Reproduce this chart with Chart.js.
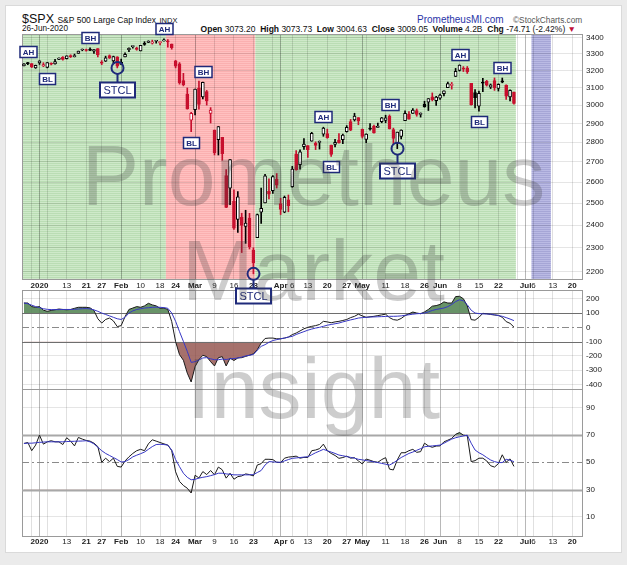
<!DOCTYPE html>
<html>
<head>
<meta charset="utf-8">
<script src="https://cdn.jsdelivr.net/npm/chart.js@4.4.0/dist/chart.umd.min.js"></script>
<style>
  html, body { margin: 0; padding: 0; background: #ebebeb; }
  body { width: 627px; height: 565px; position: relative; overflow: hidden; font-family: "Liberation Sans", Arial, sans-serif; }
  #card { position: absolute; left: 5px; top: 5px; width: 615px; height: 546px; background: #fff; border: 1px solid #dadada; }
  canvas { position: absolute; left: 0; }
  .hdr { position: absolute; white-space: nowrap; color: #111; line-height: 1; }
  .wm { position: absolute; left: 0; width: 627px; text-align: center; font-size: 86px; line-height: 1;
        color: rgba(60, 60, 60, 0.26); pointer-events: none; z-index: 10; }
</style>
</head>
<body>
<div id="card"></div>

<div class="hdr" style="left:22px;top:13px;font-size:12.5px;">$SPX <span style="font-size:8.5px">S&amp;P 500 Large Cap Index</span> <span style="font-size:7.5px">INDX</span></div>
<div class="hdr" style="left:22px;top:25px;font-size:8.2px;">26-Jun-2020</div>
<div class="hdr" style="right:51px;top:25px;font-size:8.5px;"><b>Open</b> 3073.20 &nbsp;<b>High</b> 3073.73 &nbsp;<b>Low</b> 3004.63 &nbsp;<b>Close</b> 3009.05 &nbsp;<b>Volume</b> 4.2B &nbsp;<b>Chg</b> -74.71 (-2.42%) <span style="color:#c0103a">&#9660;</span></div>
<div class="hdr" style="left:417px;top:15px;font-size:10px;color:#2a36a8;">PrometheusMI.com</div>
<div class="hdr" style="left:513px;top:16px;font-size:8.3px;color:#555;">&copy;StockCharts.com</div>

<canvas id="price" width="627" height="312" style="top:0;z-index:3"></canvas>
<canvas id="cci" width="627" height="99" style="top:290px;z-index:1"></canvas>
<canvas id="rsi" width="627" height="166" style="top:389px;z-index:1"></canvas>

<div class="wm" style="top:132px">Prometheus</div>
<div class="wm" style="top:227px">Market</div>
<div class="wm" style="top:345px">Insight</div>

<script>
// Jours de bourse affichés sur l'axe (les derniers sont vides, comme sur StockCharts)
const monthDays = {
  Dec: [26, 27, 30, 31],
  Jan: [2, 3, 6, 7, 8, 9, 10, 13, 14, 15, 16, 17, 21, 22, 23, 24, 27, 28, 29, 30, 31],
  Feb: [3, 4, 5, 6, 7, 10, 11, 12, 13, 14, 18, 19, 20, 21, 24, 25, 26, 27, 28],
  Mar: [2, 3, 4, 5, 6, 9, 10, 11, 12, 13, 16, 17, 18, 19, 20, 23, 24, 25, 26, 27, 30, 31],
  Apr: [1, 2, 3, 6, 7, 8, 9, 13, 14, 15, 16, 17, 20, 21, 22, 23, 24, 27, 28, 29, 30],
  May: [1, 4, 5, 6, 7, 8, 11, 12, 13, 14, 15, 18, 19, 20, 21, 22, 26, 27, 28, 29],
  Jun: [1, 2, 3, 4, 5, 8, 9, 10, 11, 12, 15, 16, 17, 18, 19, 22, 23, 24, 25, 26, 29, 30],
  Jul: [1, 2, 6, 7, 8, 9, 10, 13, 14, 15, 16, 17, 20, 21, 22]
};
const dates = [];
for (const m in monthDays) monthDays[m].forEach(d => dates.push(m + ' ' + d));

const priorClose = 3223.38;
const opens = [3227.20, 3247.23, 3240.09, 3215.18, 3244.67, 3226.36, 3217.55, 3241.86, 3238.59, 3266.03,
  3280.79, 3271.13, 3285.35, 3282.27, 3302.97, 3323.66, 3321.03, 3330.02, 3315.77, 3333.10,
  3247.16, 3255.35, 3289.46, 3256.45, 3282.33, 3235.66, 3280.61, 3324.91, 3344.92, 3335.54,
  3318.28, 3365.87, 3370.50, 3365.90, 3378.08, 3369.04, 3380.39, 3380.45, 3360.50, 3257.61,
  3238.94, 3139.90, 3062.54, 2916.90, 2974.28, 3096.46, 3045.75, 3075.70, 2954.20, 2863.89,
  2813.48, 2825.60, 2630.86, 2569.99, 2508.59, 2425.66, 2436.50, 2393.48, 2431.94, 2290.71,
  2344.44, 2457.77, 2501.29, 2555.87, 2558.98, 2614.69, 2498.08, 2458.54, 2514.92, 2578.28,
  2738.65, 2685.00, 2776.99, 2782.46, 2805.10, 2795.64, 2799.34, 2842.43, 2845.62, 2784.81,
  2787.89, 2810.42, 2812.64, 2854.65, 2909.96, 2918.46, 2930.91, 2869.09, 2815.01, 2868.88,
  2883.14, 2878.26, 2908.83, 2915.46, 2939.50, 2865.86, 2794.54, 2829.95, 2913.86, 2948.59,
  2953.63, 2969.95, 2948.05, 3004.08, 3015.65, 3046.61, 3025.17, 3038.78, 3064.78, 3098.90,
  3111.56, 3163.84, 3199.92, 3213.32, 3213.42, 3123.53, 3071.04, 2993.76, 3131.00, 3136.13,
  3101.64, 3140.29, 3094.42, 3138.70, 3114.40, 3046.60, 3073.20];
const highs = [3240.08, 3247.93, 3240.92, 3231.72, 3258.14, 3246.15, 3246.84, 3244.91, 3267.07, 3275.58,
  3282.99, 3288.13, 3294.25, 3298.66, 3317.11, 3329.88, 3329.79, 3337.77, 3326.88, 3333.18,
  3258.85, 3285.78, 3293.47, 3285.91, 3282.33, 3268.44, 3306.92, 3337.58, 3347.96, 3341.42,
  3352.26, 3375.63, 3381.47, 3385.09, 3380.69, 3375.01, 3393.52, 3389.15, 3360.76, 3259.81,
  3246.99, 3182.51, 3097.07, 2959.72, 3090.96, 3136.72, 3130.97, 3083.04, 2985.93, 2863.89,
  2882.59, 2825.60, 2660.95, 2711.33, 2562.98, 2553.93, 2453.57, 2466.97, 2453.01, 2300.73,
  2449.71, 2571.42, 2637.01, 2615.91, 2631.80, 2641.39, 2522.75, 2533.22, 2538.18, 2676.85,
  2756.89, 2760.75, 2818.57, 2782.46, 2851.85, 2801.88, 2806.51, 2879.22, 2868.98, 2785.54,
  2815.10, 2844.90, 2842.71, 2887.72, 2921.15, 2954.86, 2930.91, 2869.09, 2844.24, 2898.23,
  2891.11, 2901.92, 2932.16, 2944.25, 2945.82, 2874.14, 2852.80, 2865.01, 2968.09, 2964.21,
  2980.29, 2978.50, 2956.76, 3021.72, 3036.25, 3068.67, 3049.17, 3062.18, 3081.07, 3130.94,
  3128.91, 3211.72, 3233.13, 3222.71, 3223.27, 3123.53, 3088.42, 3079.76, 3153.45, 3141.16,
  3120.00, 3155.53, 3120.92, 3154.90, 3115.01, 3086.25, 3073.73];
const lows = [3227.20, 3234.37, 3216.57, 3212.03, 3235.53, 3222.34, 3214.64, 3232.43, 3236.67, 3263.67,
  3260.86, 3268.43, 3277.19, 3280.69, 3302.82, 3318.86, 3316.61, 3320.04, 3301.87, 3281.53,
  3234.50, 3253.22, 3271.89, 3242.80, 3214.68, 3235.66, 3280.61, 3313.75, 3334.39, 3322.12,
  3317.77, 3352.72, 3369.72, 3360.52, 3366.15, 3355.61, 3378.83, 3341.02, 3328.45, 3214.65,
  3118.77, 3108.99, 2977.39, 2855.84, 2945.19, 2976.63, 3034.38, 2999.83, 2901.54, 2734.43,
  2734.00, 2707.22, 2478.86, 2492.37, 2380.94, 2367.04, 2280.52, 2319.78, 2295.56, 2191.86,
  2344.44, 2407.53, 2500.72, 2520.02, 2545.28, 2571.15, 2447.49, 2455.79, 2459.96, 2574.57,
  2657.67, 2663.30, 2762.36, 2721.17, 2805.10, 2761.54, 2764.32, 2830.88, 2820.43, 2727.10,
  2775.95, 2794.26, 2791.76, 2852.89, 2860.71, 2912.16, 2892.47, 2821.61, 2797.85, 2863.55,
  2847.65, 2876.48, 2902.88, 2903.44, 2869.59, 2793.15, 2766.64, 2816.78, 2913.86, 2922.35,
  2953.63, 2938.57, 2933.59, 2988.17, 2969.75, 3023.40, 2998.61, 3031.54, 3051.64, 3098.90,
  3090.41, 3163.84, 3196.00, 3193.11, 3181.49, 2999.49, 2984.47, 2965.66, 3076.06, 3108.03,
  3093.51, 3083.11, 3079.39, 3127.12, 3032.13, 3024.01, 3004.63];
const closes = [3239.91, 3240.02, 3221.29, 3230.78, 3257.85, 3234.85, 3246.28, 3237.18, 3253.05, 3274.70,
  3265.35, 3288.13, 3283.15, 3289.29, 3316.81, 3329.62, 3320.79, 3321.75, 3325.54, 3295.47,
  3243.63, 3276.24, 3273.40, 3283.66, 3225.52, 3248.92, 3297.59, 3334.69, 3345.78, 3327.71,
  3352.09, 3357.75, 3379.45, 3373.94, 3380.16, 3370.29, 3386.15, 3373.23, 3337.75, 3225.89,
  3128.21, 3116.39, 2978.76, 2954.22, 3090.23, 3003.37, 3130.12, 3023.94, 2972.37, 2746.56,
  2882.23, 2741.38, 2480.64, 2711.02, 2386.13, 2529.19, 2398.10, 2409.39, 2304.92, 2237.40,
  2447.33, 2475.56, 2630.07, 2541.47, 2626.65, 2584.59, 2470.50, 2526.90, 2488.65, 2663.68,
  2659.41, 2749.98, 2789.82, 2761.63, 2846.06, 2783.36, 2799.55, 2874.56, 2823.16, 2736.56,
  2799.31, 2797.80, 2836.74, 2878.48, 2863.39, 2939.51, 2912.43, 2830.71, 2842.74, 2868.44,
  2848.42, 2881.19, 2929.80, 2930.32, 2870.12, 2820.00, 2852.50, 2863.70, 2953.91, 2922.94,
  2971.61, 2948.51, 2955.45, 2991.77, 3036.13, 3029.73, 3044.31, 3055.73, 3080.82, 3122.87,
  3112.35, 3193.93, 3232.39, 3207.18, 3190.14, 3002.10, 3041.31, 3066.59, 3124.74, 3113.49,
  3115.34, 3097.74, 3117.86, 3131.29, 3050.33, 3083.76, 3009.05];

// panneau du milieu (CCI) et sa moyenne
const cci = [170, 170, 145, 140, 145, 120, 112, 118, 123, 128,
  125, 123, 125, 133, 140, 140, 140, 136, 118, 60,
  30, 55, 65, 45, 5, 12, 75, 125, 135, 145,
  140, 150, 168, 157, 150, 133, 134, 125, 40, -100,
  -191, -230, -320, -382, -275, -226, -195, -205, -240, -270,
  -212, -205, -270, -215, -232, -214, -212, -203, -195, -185,
  -156, -110, -78, -75, -75, -80, -80, -75, -68, -51,
  -40, -25, -10, 0, 7, 12, 20, 42, 38, 32,
  38, 42, 48, 55, 68, 77, 92, 80, 70, 74,
  77, 82, 87, 92, 68, 54, 50, 62, 82, 95,
  107, 100, 95, 108, 125, 148, 152, 160, 178, 170,
  170, 215, 217, 200, 150, 54, 50, 70, 98, 95,
  90, 86, 84, 70, 40, 28, 2];
const cciAvg = [170, 165, 155, 145, 138, 130, 126, 124, 124, 124,
  125, 125, 125, 126, 128, 130, 131, 129, 122, 112,
  100, 90, 80, 70, 60, 55, 70, 100, 115, 125,
  130, 135, 137, 140, 141, 140, 138, 133, 100, 42,
  -30, -98, -168, -245, -240, -228, -214, -212, -220, -226,
  -226, -222, -225, -220, -218, -214, -208, -200, -195, -190,
  -160, -133, -121, -105, -92, -86, -80, -75, -68, -63,
  -50, -40, -30, -20, -12, -5, 0, 7, 15, 20,
  25, 30, 38, 45, 52, 58, 65, 68, 70, 72,
  73, 74, 75, 76, 77, 77, 78, 80, 84, 88,
  92, 95, 97, 100, 108, 118, 125, 130, 135, 145,
  160, 180, 193, 185, 158, 120, 100, 96, 94, 93,
  93, 88, 82, 77, 68, 58, 47];

// panneau du bas (RSI) et sa moyenne
const rsi = [63.8, 64.5, 58.5, 62.6, 69.9, 63.3, 65, 65.8, 65, 65,
  63, 68, 65.5, 62, 68.2, 67, 66, 65.5, 64, 61.5,
  50, 53, 50.5, 53, 47, 46.5, 51, 54, 56.5, 58.5,
  59.5, 58.5, 63.5, 66.5, 65.5, 64.5, 63.5, 62.6, 58.5, 43,
  36, 33, 31, 27.5, 40.5, 38.5, 43.2, 41, 44, 40.8,
  46.5, 44.5, 38.4, 42, 37.6, 39.5, 40, 41.5, 41, 40,
  48, 49, 52.2, 52.2, 52, 50, 49.8, 53, 53.8, 54.1,
  54.5, 53, 53.6, 53.5, 58.5, 59, 60, 63.3, 58.5, 56.5,
  55, 52.9, 53.5, 54.5, 53, 53.4, 51, 48.8, 52.4, 51.5,
  50.5, 50, 52, 53.4, 45, 44.4, 51.7, 57, 57, 58.5,
  59.5, 57.3, 57.8, 64, 62, 61, 61.9, 62, 65, 66.2,
  67.5, 70.5, 71.8, 69.9, 69.5, 50.5, 51.2, 53, 53, 51,
  47.5, 46.5, 49, 55.5, 50, 52.5, 47];
const rsiAvg = [63.8, 64, 64, 64.3, 64.6, 64.8, 65, 65, 65, 65,
  65, 65.2, 65.3, 65.4, 65.5, 65.6, 65.8, 65, 63.5, 61,
  58.5, 56.5, 55, 53.5, 52, 50.2, 50.5, 52, 54, 55.2,
  56.3, 57.5, 59.5, 61.5, 63, 63.2, 63, 62.6, 59, 52,
  46.8, 42, 39, 37.2, 37.5, 38.4, 39, 39.5, 40.2, 41,
  42, 42, 41.5, 41.2, 40.8, 40.8, 40.8, 40.8, 40.8, 41,
  42.5, 44, 48, 50.5, 50.3, 50.1, 50, 51, 52, 52.9,
  53.2, 53.5, 53.8, 54.1, 55.5, 57, 58.2, 59.5, 58.5, 57.5,
  56.5, 55.3, 54.8, 54.2, 53.6, 53, 52.2, 51.8, 51.3, 50.8,
  50.3, 49.8, 49.2, 48.6, 48, 49.5, 51.5, 53.5, 55, 56.5,
  57.5, 58.8, 60, 61.4, 61.7, 62, 62.3, 62.6, 64, 65.5,
  67, 68, 68.7, 69.3, 69.9, 64, 59, 57, 55.5, 53.5,
  51.7, 50.5, 49.8, 49.8, 52.2, 51.5, 50.5];

// étiquettes et graduations
const tickDates = ['Jan 2', 'Jan 13', 'Jan 21', 'Jan 27', 'Feb 3', 'Feb 10', 'Feb 18', 'Feb 24', 'Mar 2', 'Mar 9',
  'Mar 16', 'Mar 23', 'Apr 1', 'Apr 6', 'Apr 13', 'Apr 20', 'Apr 27', 'May 1', 'May 11', 'May 18',
  'May 26', 'Jun 1', 'Jun 8', 'Jun 15', 'Jun 22', 'Jul 1', 'Jul 6', 'Jul 13', 'Jul 20'];
const tickText = ['2020', '13', '21', '27', 'Feb', '10', '18', '24', 'Mar', '9',
  '16', '23', 'Apr', '6', '13', '20', '27', 'May', '11', '18',
  '26', 'Jun', '8', '15', '22', 'Jul', '6', '13', '20'];
const monthDates = ['Jan 2', 'Feb 3', 'Mar 2', 'Apr 1', 'May 1', 'Jun 1', 'Jul 1'];
const weekDates = ['Dec 30', 'Jan 6', 'Jan 13', 'Jan 21', 'Jan 27', 'Feb 3', 'Feb 10', 'Feb 18', 'Feb 24', 'Mar 2',
  'Mar 9', 'Mar 16', 'Mar 23', 'Mar 30', 'Apr 6', 'Apr 13', 'Apr 20', 'Apr 27', 'May 4', 'May 11',
  'May 18', 'May 26', 'Jun 1', 'Jun 8', 'Jun 15', 'Jun 22', 'Jun 29', 'Jul 6', 'Jul 13', 'Jul 20'];
const priceTicks = [3400, 3300, 3200, 3100, 3000, 2900, 2800, 2700, 2600, 2500, 2400, 2300, 2200];
const cciTicks = [200, 100, 0, -100, -200, -300, -400];
const rsiTicks = [90, 70, 50, 30, 10];

// zones de fond (haussier / baissier / semaine à venir)
const zoneFrom = ['Dec 26', 'Feb 20', 'Mar 24', 'Jul 6'];
const zoneTo = ['Feb 19', 'Mar 23', 'Jun 26', 'Jul 10'];
const zoneKind = ['bull', 'bear', 'bull', 'week'];

// repères AH / BL / BH / STCL
const tagText = ['AH', 'BL', 'BH', 'STCL', 'AH', 'BL', 'BH', 'STCL', 'AH', 'BL', 'BH', 'STCL', 'AH', 'BL', 'BH'];
const tagDate = ['Dec 27', 'Jan 6', 'Jan 22', 'Jan 31', 'Feb 19', 'Feb 28', 'Mar 4', 'Mar 23', 'Apr 17', 'Apr 21',
  'May 12', 'May 14', 'Jun 8', 'Jun 15', 'Jun 23'];

const FONT = '"Liberation Sans", Arial, sans-serif';
const NAVY = '#1f2a7a';
const UP = '#000000';
const DOWN = '#c8102e';

// motif rayé des zones
function stripes(a, b) {
    const c = document.createElement('canvas');
    c.width = 1; c.height = 2;
    const g = c.getContext('2d');
    g.fillStyle = a; g.fillRect(0, 0, 1, 1);
    g.fillStyle = b; g.fillRect(0, 1, 1, 1);
    return g.createPattern(c, 'repeat');
}
const zoneFill = {
    bull: stripes('rgb(206,233,201)', 'rgb(186,221,180)'),
    bear: stripes('rgb(255,192,192)', 'rgb(250,176,176)'),
    week: stripes('rgb(186,186,228)', 'rgb(166,166,214)')
};

const tickMap = {};
tickDates.forEach((d, k) => tickMap[d] = tickText[k]);

function gridColor(i) {
    const d = dates[i];
    if (monthDates.includes(d)) return 'rgba(0,0,0,0.28)';
    if (weekDates.includes(d)) return 'rgba(0,0,0,0.12)';
    return 'rgba(0,0,0,0)';
}

function xAxis(height, showLabels, pad) {
    return {
        type: 'category',
        offset: true,
        grid: { offset: false, drawTicks: false, color: c => gridColor(c.index) },
        border: { display: false },
        ticks: {
            display: showLabels,
            autoSkip: false,
            maxRotation: 0,
            minRotation: 0,
            padding: pad,
            color: '#222',
            font: c => ({ family: FONT, size: 8, weight: /^[A-Z2]/.test(tickMap[dates[c.index]] || '') ? 'bold' : 'normal' }),
            callback: (v, i) => tickMap[dates[i]] || ''
        },
        afterFit: s => { s.height = height; s.paddingLeft = 0; s.paddingRight = 0; }
    };
}

function yAxis(type, min, max, ticks, gridFn) {
    return {
        type: type,
        position: 'right',
        min: min,
        max: max,
        bounds: 'data',
        grid: { drawTicks: false, color: gridFn },
        border: { display: false },
        afterBuildTicks: s => { s.ticks = ticks.map(v => ({ value: v })); },
        ticks: { autoSkip: false, padding: 4, color: '#222', font: { family: FONT, size: 8 }, callback: v => String(v) },
        afterFit: s => { s.width = 45; s.paddingTop = 0; s.paddingBottom = 0; }
    };
}

const framePlugin = {
    id: 'frame',
    beforeDatasetsDraw(chart) {
        const { ctx, chartArea: a } = chart;
        ctx.save();
        ctx.strokeStyle = '#9a9a9a';
        ctx.lineWidth = 1;
        ctx.strokeRect(Math.round(a.left) + 0.5, Math.round(a.top) + 0.5, Math.round(a.right - a.left), Math.round(a.bottom - a.top));
        ctx.restore();
    }
};

const zonePlugin = {
    id: 'zones',
    beforeDraw(chart) {
        const { ctx, chartArea: a } = chart;
        const x = chart.scales.x;
        const half = (x.getPixelForValue(1) - x.getPixelForValue(0)) / 2;
        ctx.save();
        zoneFrom.forEach((d, k) => {
            const x0 = x.getPixelForValue(dates.indexOf(d)) - half;
            const x1 = x.getPixelForValue(dates.indexOf(zoneTo[k])) + half;
            ctx.fillStyle = zoneFill[zoneKind[k]];
            ctx.fillRect(x0, a.top, x1 - x0, a.bottom - a.top);
        });
        ctx.restore();
    }
};

const tagPlugin = {
    id: 'tags',
    afterDatasetsDraw(chart) {
        const { ctx } = chart;
        const x = chart.scales.x, y = chart.scales.y;
        ctx.save();
        ctx.textAlign = 'center';
        ctx.textBaseline = 'middle';
        tagText.forEach((t, k) => {
            const i = dates.indexOf(tagDate[k]);
            const px = Math.round(x.getPixelForValue(i)) + 0.5;
            const big = t === 'STCL';
            const h = big ? 15 : 11;
            let cy;
            if (t === 'AH' || t === 'BH') {
                cy = y.getPixelForValue(highs[i]) - 10;
            } else if (big) {
                const ly = y.getPixelForValue(lows[i]);
                cy = ly + 22;
                ctx.strokeStyle = NAVY;
                ctx.lineWidth = 2;
                ctx.beginPath();
                ctx.arc(px, ly, 6, 0, Math.PI * 2);
                ctx.stroke();
                ctx.beginPath();
                ctx.moveTo(px, ly + 6);
                ctx.lineTo(px, cy - h / 2);
                ctx.stroke();
            } else {
                cy = y.getPixelForValue(lows[i]) + 11;
            }
            cy = Math.round(cy);
            ctx.font = big ? '11px ' + FONT : 'bold 8px ' + FONT;
            const w = Math.round(ctx.measureText(t).width + (big ? 7 : 5));
            ctx.fillStyle = '#fff';
            ctx.fillRect(px - w / 2, cy - h / 2, w, h);
            ctx.strokeStyle = NAVY;
            ctx.lineWidth = big ? 2 : 1.5;
            ctx.strokeRect(px - w / 2, cy - h / 2, w, h);
            ctx.fillStyle = NAVY;
            ctx.fillText(t, px, cy + 0.5);
        });
        ctx.restore();
    }
};

// lignes de référence des oscillateurs
function refPlugin(solid, solidColor, solidWidth, dashed) {
    return {
        id: 'refs',
        beforeDatasetsDraw(chart) {
            const { ctx, chartArea: a } = chart;
            const y = chart.scales.y;
            ctx.save();
            ctx.strokeStyle = solidColor;
            ctx.lineWidth = solidWidth;
            solid.forEach(v => {
                const py = Math.round(y.getPixelForValue(v)) + 0.5;
                ctx.beginPath(); ctx.moveTo(a.left, py); ctx.lineTo(a.right, py); ctx.stroke();
            });
            ctx.strokeStyle = '#8a8a8a';
            ctx.lineWidth = 1;
            ctx.setLineDash([7, 3, 2, 3]);
            const py = Math.round(y.getPixelForValue(dashed)) + 0.5;
            ctx.beginPath(); ctx.moveTo(a.left, py); ctx.lineTo(a.right, py); ctx.stroke();
            ctx.restore();
        }
    };
}

const baseOptions = {
    animation: false,
    responsive: false,
    events: [],
    plugins: { legend: { display: false }, tooltip: { enabled: false }, filler: { drawTime: 'beforeDatasetsDraw' } }
};

// couleur : clôture vs clôture précédente ; creux si clôture > ouverture
const candleColor = closes.map((c, i) => c >= (i ? closes[i - 1] : priorClose) ? UP : DOWN);
const candleFill = closes.map((c, i) => c > opens[i] ? '#ffffff' : candleColor[i]);

new Chart(document.getElementById('price'), {
    type: 'bar',
    data: {
        labels: dates,
        datasets: [
            {
                data: opens.map((o, i) => [o, closes[i]]),
                backgroundColor: candleFill,
                borderColor: candleColor,
                borderWidth: 1,
                borderSkipped: false,
                barThickness: 3,
                minBarLength: 1,
                grouped: false
            },
            {
                data: lows.map((l, i) => [l, highs[i]]),
                backgroundColor: candleColor,
                borderWidth: 0,
                barThickness: 1,
                grouped: false
            }
        ]
    },
    options: {
        ...baseOptions,
        layout: { padding: { left: 22, top: 34, right: 0, bottom: 0 } },
        scales: {
            x: xAxis(33, true, 2),
            y: yAxis('logarithmic', 2171, 3424, priceTicks, () => 'rgba(0,0,0,0.10)')
        }
    },
    plugins: [zonePlugin, framePlugin, tagPlugin]
});

function oscillator(id, values, avg, min, max, ticks, upper, lower, mid, solidColor, solidWidth, xHeight, showLabels) {
    new Chart(document.getElementById(id), {
        type: 'line',
        data: {
            labels: dates,
            datasets: [
                { data: avg, borderColor: '#3636c4', borderWidth: 1, pointRadius: 0, fill: false },
                { data: values, borderColor: '#1a1a1a', borderWidth: 1, pointRadius: 0, fill: false },
                { data: values, borderWidth: 0, borderColor: 'rgba(0,0,0,0)', pointRadius: 0,
                  fill: { target: { value: upper }, above: 'rgba(78,128,78,0.85)', below: 'rgba(0,0,0,0)' } },
                { data: values, borderWidth: 0, borderColor: 'rgba(0,0,0,0)', pointRadius: 0,
                  fill: { target: { value: lower }, above: 'rgba(0,0,0,0)', below: 'rgba(150,88,82,0.85)' } }
            ]
        },
        options: {
            ...baseOptions,
            layout: { padding: { left: 22, top: 0, right: 0, bottom: 0 } },
            scales: {
                x: xAxis(xHeight, showLabels, 1),
                y: yAxis('linear', min, max, ticks, c => (c.tick && (c.tick.value === upper || c.tick.value === lower || c.tick.value === mid)) ? 'rgba(0,0,0,0)' : 'rgba(0,0,0,0.10)')
            }
        },
        plugins: [framePlugin, refPlugin([upper, lower], solidColor, solidWidth, mid)]
    });
}

oscillator('cci', cci, cciAvg, -431, 261, cciTicks, 100, -100, 0, '#6e6e6e', 1, 0, false);
oscillator('rsi', rsi, rsiAvg, -4, 103.7, rsiTicks, 70, 30, 50, '#a8a8a8', 2, 19, true);
</script>
</body>
</html>
